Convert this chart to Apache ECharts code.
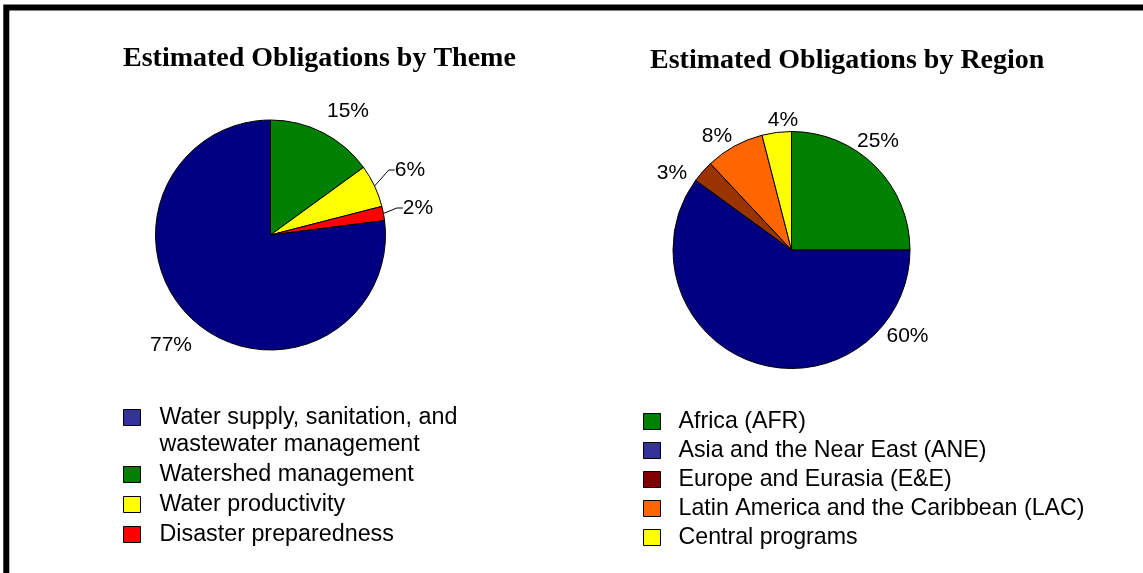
<!DOCTYPE html>
<html>
<head>
<meta charset="utf-8">
<script src="https://cdn.jsdelivr.net/npm/echarts@6/dist/echarts.min.js"></script>
<style>
  html, body { margin: 0; padding: 0; background: #fff; }
  #chart { width: 1143px; height: 573px; }
</style>
</head>
<body>
<div id="chart"></div>
<script>
// ---- Data ----
const THEME_TITLE = 'Estimated Obligations by Theme';
const REGION_TITLE = 'Estimated Obligations by Region';

// pie order (clockwise from 12 o'clock)
const THEME_CATEGORIES = ['Watershed management', 'Water productivity', 'Disaster preparedness', 'Water supply, sanitation, and wastewater management'];
const THEME_VALUES = [15, 6, 2, 77];
const THEME_LEGEND_ORDER = ['Water supply, sanitation, and wastewater management', 'Watershed management', 'Water productivity', 'Disaster preparedness'];

const REGION_CATEGORIES = ['Africa (AFR)', 'Asia and the Near East (ANE)', 'Europe and Eurasia (E&E)', 'Latin America and the Caribbean (LAC)', 'Central programs'];
const REGION_VALUES = [25, 60, 3, 8, 4];
const REGION_LEGEND_ORDER = ['Africa (AFR)', 'Asia and the Near East (ANE)', 'Europe and Eurasia (E&E)', 'Latin America and the Caribbean (LAC)', 'Central programs'];

// ---- Styles ----
const THEME_COLORS = {
  'Water supply, sanitation, and wastewater management': '#000080',
  'Watershed management': '#008000',
  'Water productivity': '#FFFF00',
  'Disaster preparedness': '#FF0000'
};
const THEME_LEGEND_COLORS = {
  'Water supply, sanitation, and wastewater management': '#333399',
  'Watershed management': '#008000',
  'Water productivity': '#FFFF00',
  'Disaster preparedness': '#FF0000'
};
const REGION_COLORS = {
  'Africa (AFR)': '#008000',
  'Asia and the Near East (ANE)': '#000080',
  'Europe and Eurasia (E&E)': '#993300',
  'Latin America and the Caribbean (LAC)': '#FF6600',
  'Central programs': '#FFFF00'
};
const REGION_LEGEND_COLORS = {
  'Africa (AFR)': '#008000',
  'Asia and the Near East (ANE)': '#333399',
  'Europe and Eurasia (E&E)': '#800000',
  'Latin America and the Caribbean (LAC)': '#FF6600',
  'Central programs': '#FFFF00'
};

const PIE_GEOM = [
  { cx: 270.5, cy: 235, r: 115 },
  { cx: 791.5, cy: 250, r: 118.5 }
];
// label anchor offsets from pie centre (pixels), per slice in pie order
const LABEL_OFFSETS = [
  [[77.5, -124], [139.5, -65], [147.5, -27], [-99.5, 110]],
  [[86.5, -109], [116, 86], [-119.5, -77], [-74.5, -114], [-8.5, -130]]
];
const LEADER_LINES = [[false, true, true, false], [false, false, false, false, false]];

const LABEL_FONT = 'Liberation Sans, Arial, sans-serif';
const TITLE_FONT = 'Liberation Serif, Times New Roman, serif';

function pieData(cats, vals, colors, leaders) {
  return cats.map((c, i) => ({
    name: c,
    value: vals[i],
    itemStyle: { color: colors[c] },
    labelLine: { show: leaders[i], length: 6, length2: 6, lineStyle: { color: '#000', width: 1 } }
  }));
}

function legendData(order, colors) {
  return order.map(n => ({ name: n, itemStyle: { color: colors[n], borderColor: '#000', borderWidth: 1 } }));
}

const chart = echarts.init(document.getElementById('chart'), null, { renderer: 'canvas' });

function makeLabelLayout(seriesIdx) {
  return function (params) {
    const g = PIE_GEOM[seriesIdx];
    const off = LABEL_OFFSETS[seriesIdx][params.dataIndex];
    return { x: g.cx + off[0], y: g.cy + off[1], align: 'center', verticalAlign: 'middle' };
  };
}

const option = {
  animation: false,
  backgroundColor: '#fff',
  graphic: [{
    type: 'rect', z: -10, silent: true,
    shape: { x: 6.3, y: 7.5, width: 1400, height: 800 },
    style: { fill: 'none', stroke: '#000', lineWidth: 6 }
  }],
  title: [
    { text: THEME_TITLE, left: 123, top: 45, padding: 0,
      textStyle: { fontFamily: TITLE_FONT, fontWeight: 'bold', fontSize: 28, color: '#000', lineHeight: 28 } },
    { text: REGION_TITLE, left: 650, top: 47, padding: 0,
      textStyle: { fontFamily: TITLE_FONT, fontWeight: 'bold', fontSize: 28, color: '#000', lineHeight: 28 } }
  ],
  legend: [
    {
      orient: 'vertical', left: 123, top: 377, padding: 0,
      itemGap: 3, itemWidth: 17, itemHeight: 16, icon: 'rect',
      selectedMode: false,
      data: legendData(THEME_LEGEND_ORDER, THEME_LEGEND_COLORS),
      formatter: function (name) {
        const k = name.indexOf(' wastewater');
        return k > 0 ? '\n' + name.slice(0, k) + '\n' + name.slice(k + 1) : name;
      },
      textStyle: { fontFamily: LABEL_FONT, fontSize: 23.3, color: '#000', lineHeight: 27, padding: [0, 0, 0, 14] }
    },
    {
      orient: 'vertical', left: 643, top: 409.5, padding: 0,
      itemGap: 5, itemWidth: 17, itemHeight: 16, icon: 'rect',
      selectedMode: false,
      data: legendData(REGION_LEGEND_ORDER, REGION_LEGEND_COLORS),
      textStyle: { fontFamily: LABEL_FONT, fontSize: 23.2, color: '#000', lineHeight: 24, padding: [0, 0, 0, 13] }
    }
  ],
  series: [
    {
      type: 'pie', name: 'Theme',
      center: [PIE_GEOM[0].cx, PIE_GEOM[0].cy], radius: PIE_GEOM[0].r,
      startAngle: 90, clockwise: true, avoidLabelOverlap: false,
      itemStyle: { borderColor: '#000', borderWidth: 1 },
      emphasis: { disabled: true },
      label: { show: true, position: 'outside', formatter: '{c}%', fontFamily: LABEL_FONT, fontSize: 21, color: '#000' },
      labelLine: { show: false },
      labelLayout: makeLabelLayout(0),
      data: pieData(THEME_CATEGORIES, THEME_VALUES, THEME_COLORS, LEADER_LINES[0])
    },
    {
      type: 'pie', name: 'Region',
      center: [PIE_GEOM[1].cx, PIE_GEOM[1].cy], radius: PIE_GEOM[1].r,
      startAngle: 90, clockwise: true, avoidLabelOverlap: false,
      itemStyle: { borderColor: '#000', borderWidth: 1 },
      emphasis: { disabled: true },
      label: { show: true, position: 'outside', formatter: '{c}%', fontFamily: LABEL_FONT, fontSize: 21, color: '#000' },
      labelLine: { show: false },
      labelLayout: makeLabelLayout(1),
      data: pieData(REGION_CATEGORIES, REGION_VALUES, REGION_COLORS, LEADER_LINES[1])
    }
  ]
};
chart.setOption(option);
</script>
</body>
</html>
